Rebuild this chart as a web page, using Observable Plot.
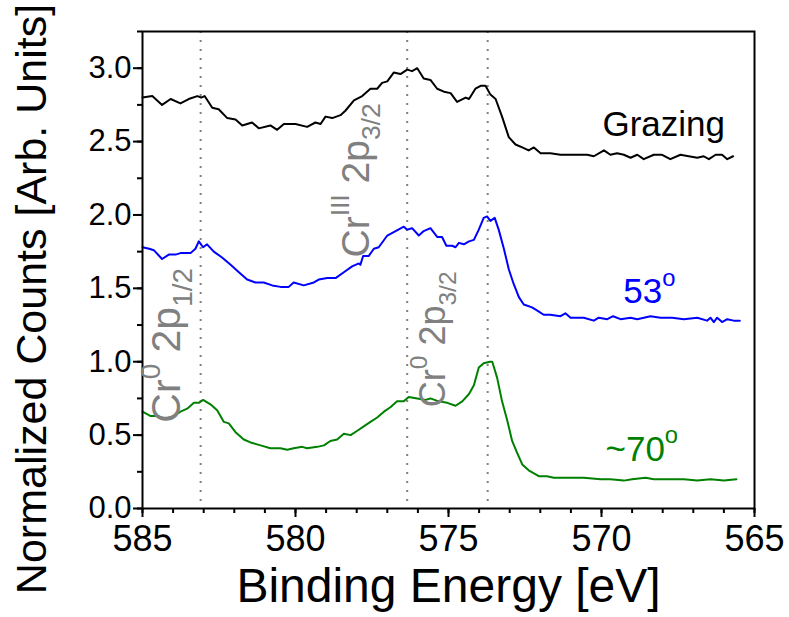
<!DOCTYPE html>
<html><head><meta charset="utf-8">
<script src="https://cdn.jsdelivr.net/npm/d3@7"></script>
<script src="https://cdn.jsdelivr.net/npm/@observablehq/plot@0.6"></script>
<style>html,body{margin:0;padding:0;background:#fff} svg{display:block}</style>
</head><body><div id="chart"></div>
<script>
// ---- data ----
const energyGrazing = [585.00,584.68,584.36,584.08,583.76,583.49,583.21,583.08,582.97,582.72,
 582.51,582.23,581.96,581.74,581.42,581.20,580.82,580.60,580.38,580.00,
 579.62,579.35,579.18,579.02,578.80,578.53,578.37,578.09,577.82,577.55,
 577.33,577.17,577.00,576.79,576.57,576.35,576.19,576.02,575.81,575.59,
 575.37,575.15,574.93,574.72,574.44,574.33,574.12,573.95,573.79,573.63,
 573.46,573.25,573.03,572.81,572.59,572.38,572.21,571.99,571.67,571.34,
 571.01,570.69,570.47,570.25,569.92,569.71,569.49,569.27,569.05,568.83,
 568.62,568.29,568.02,567.75,567.42,567.15,566.87,566.66,566.49,566.27,
 566.06,565.89,565.70];
const countsGrazing = [2.80,2.81,2.75,2.79,2.76,2.79,2.81,2.80,2.81,2.73,
 2.72,2.66,2.65,2.61,2.63,2.59,2.61,2.58,2.62,2.62,
 2.60,2.63,2.62,2.67,2.66,2.68,2.71,2.78,2.81,2.86,
 2.86,2.90,2.91,2.97,2.96,2.99,2.98,3.00,2.93,2.92,
 2.86,2.84,2.83,2.77,2.80,2.79,2.86,2.88,2.88,2.82,
 2.79,2.67,2.53,2.48,2.46,2.44,2.46,2.42,2.42,2.41,
 2.41,2.41,2.41,2.40,2.44,2.41,2.42,2.41,2.39,2.41,
 2.38,2.41,2.41,2.38,2.41,2.40,2.39,2.40,2.38,2.41,
 2.41,2.38,2.40];

const energy53 = [585.00,584.78,584.63,584.36,584.14,583.92,583.76,583.43,583.27,583.16,
 583.02,582.89,582.67,582.40,582.12,581.85,581.58,581.31,581.04,580.76,
 580.49,580.22,580.06,579.73,579.40,579.24,578.96,578.69,578.42,578.15,
 577.93,577.88,577.79,577.61,577.44,577.28,577.00,576.73,576.46,576.35,
 576.19,575.97,575.81,575.59,575.37,575.21,575.07,574.88,574.77,574.66,
 574.50,574.33,574.17,574.01,573.85,573.74,573.63,573.49,573.36,573.19,
 573.03,572.87,572.70,572.54,572.27,572.11,571.89,571.67,571.34,571.18,
 571.01,570.58,570.25,570.09,569.81,569.62,569.38,569.05,568.83,568.40,
 568.07,567.69,567.31,566.87,566.55,566.44,566.33,566.22,566.06,565.89,
 565.68,565.48];
const counts53 = [1.78,1.77,1.76,1.70,1.73,1.73,1.74,1.74,1.77,1.82,
 1.78,1.80,1.75,1.71,1.66,1.61,1.56,1.54,1.54,1.52,
 1.51,1.51,1.54,1.52,1.54,1.56,1.57,1.57,1.61,1.65,
 1.67,1.66,1.72,1.72,1.77,1.78,1.86,1.89,1.92,1.90,
 1.91,1.86,1.89,1.91,1.85,1.85,1.79,1.79,1.78,1.81,
 1.80,1.82,1.83,1.90,1.98,1.99,1.96,1.98,1.90,1.77,
 1.63,1.53,1.44,1.39,1.37,1.35,1.32,1.32,1.31,1.33,
 1.30,1.30,1.28,1.30,1.29,1.31,1.29,1.30,1.29,1.31,
 1.30,1.30,1.29,1.30,1.28,1.30,1.27,1.30,1.27,1.29,
 1.28,1.28];

const energy70 = [585.00,584.73,584.51,584.25,583.97,583.76,583.54,583.32,583.16,583.02,
 582.78,582.56,582.34,582.18,581.96,581.69,581.47,581.14,580.82,580.49,
 580.27,580.06,579.78,579.62,579.29,579.07,578.86,578.64,578.42,578.20,
 577.98,577.77,577.55,577.33,577.11,576.90,576.68,576.46,576.30,576.02,
 575.75,575.59,575.32,575.04,574.77,574.55,574.33,574.17,574.01,573.85,
 573.65,573.57,573.41,573.25,573.08,572.92,572.76,572.59,572.38,572.05,
 571.78,571.56,571.13,570.58,570.03,569.71,569.27,569.00,568.56,568.29,
 567.85,567.31,566.87,566.44,566.00,565.59];
const counts70 = [0.66,0.63,0.63,0.61,0.63,0.66,0.68,0.72,0.72,0.74,
 0.71,0.67,0.59,0.58,0.52,0.47,0.45,0.43,0.41,0.41,
 0.40,0.41,0.42,0.41,0.42,0.43,0.46,0.47,0.51,0.50,
 0.53,0.56,0.59,0.62,0.66,0.69,0.73,0.73,0.76,0.75,
 0.74,0.75,0.73,0.72,0.70,0.73,0.78,0.84,0.96,0.99,
 1.00,1.00,0.89,0.73,0.60,0.46,0.38,0.30,0.26,0.22,
 0.22,0.21,0.21,0.21,0.20,0.20,0.19,0.20,0.21,0.20,
 0.20,0.20,0.19,0.20,0.19,0.20];

const peakEnergies = [583.1, 576.35, 573.72];
const peakLabelText = ["Cr^0^ 2p_1/2_", "Cr^III^ 2p_3/2_", "Cr^0^ 2p_3/2_"];
const peakLabelEnergy = [583.76, 577.61, 575.10];
const peakLabelCounts = [0.585, 1.71, 0.69];
const peakLabelSize = [41, 39, 36];

const seriesNames = ["Grazing", "53^o^", "~70^o^"];
const seriesColors = ["#000000", "#0000ff", "#008000"];
const seriesLabelEnergy = [569.97, 569.29, 569.87];
const seriesLabelCounts = [2.54, 1.40, 0.327];

const xMajorTicks = [585, 580, 575, 570, 565];
const xMinorTicks = d3.range(565, 586, 1);
const yMajorTicks = [0, 0.5, 1.0, 1.5, 2.0, 2.5, 3.0];
const yMinorTicks = d3.range(0, 3.26, 0.25);
const xTitle = "Binding Energy [eV]";
const yTitle = "Normalized Counts [Arb. Units]";

// ---- tables ----
const rows = (xs, ys) => xs.map((x, i) => ({energy: x, counts: ys[i]}));
const peakLabels = peakLabelText.map((t, i) => ({text: t, energy: peakLabelEnergy[i], counts: peakLabelCounts[i], size: peakLabelSize[i]}));
const seriesLabels = seriesNames.map((t, i) => ({text: t, color: seriesColors[i], energy: seriesLabelEnergy[i], counts: seriesLabelCounts[i]}));

const FONT = "'Liberation Sans', Arial, Helvetica, sans-serif";

const svg = Plot.plot({
  width: 789, height: 617,
  marginLeft: 142, marginRight: 35, marginTop: 31, marginBottom: 109,
  x: {domain: [585, 565]},
  y: {domain: [0, 3.25]},
  color: {type: "identity"},
  style: {fontFamily: FONT, background: "white", color: "black", overflow: "visible"},
  marks: [
    Plot.ruleX(peakEnergies, {stroke: "#808080", strokeWidth: 2, strokeDasharray: "2,7"}),
    Plot.line(rows(energyGrazing, countsGrazing), {x: "energy", y: "counts", stroke: seriesColors[0], strokeWidth: 2}),
    Plot.line(rows(energy53, counts53), {x: "energy", y: "counts", stroke: seriesColors[1], strokeWidth: 2}),
    Plot.line(rows(energy70, counts70), {x: "energy", y: "counts", stroke: seriesColors[2], strokeWidth: 2}),
    Plot.axisX({ticks: xMinorTicks, tickSize: 5, strokeWidth: 2, tickFormat: () => "", label: null}),
    Plot.axisX({ticks: xMajorTicks, tickSize: 9, tickPadding: 8, strokeWidth: 2, fontSize: 36, tickFormat: d => String(d), label: null}),
    Plot.axisY({ticks: yMinorTicks, tickSize: 5, strokeWidth: 2, tickFormat: () => "", label: null}),
    Plot.axisY({ticks: yMajorTicks, tickSize: 9, tickPadding: 2, strokeWidth: 2, fontSize: 31, tickFormat: d => d.toFixed(1), label: null}),
    Plot.frame({stroke: "black", strokeWidth: 2}),
    Plot.text([xTitle], {text: d => d, frameAnchor: "bottom", textAnchor: "middle", dy: 93, lineAnchor: "bottom", fontSize: 48}),
    Plot.text([yTitle], {text: d => d, frameAnchor: "left", textAnchor: "middle", rotate: -90, dx: -97, dy: 29, lineAnchor: "bottom", fontSize: 43}),
    Plot.text(peakLabels, {x: "energy", y: "counts", text: "text", rotate: -90, textAnchor: "start", lineAnchor: "bottom", fontSize: "size", fill: "#808080"}),
    Plot.text(seriesLabels, {x: "energy", y: "counts", text: "text", fill: "color", textAnchor: "start", lineAnchor: "bottom", fontSize: 35})
  ]
});
document.getElementById("chart").appendChild(svg);

// rich text: ^sup^ and _sub_
d3.select(svg).selectAll("text").each(function () {
  const t = this.textContent;
  if (!/[\^_]/.test(t)) return;
  const F = parseFloat(getComputedStyle(this).fontSize) || 36;
  const parts = t.split(/(\^[^\^]*\^|_[^_]*_)/).filter(s => s.length);
  while (this.firstChild) this.removeChild(this.firstChild);
  let shift = 0;
  for (const p of parts) {
    let kind = "n", s = p;
    if (p.startsWith("^")) { kind = "sup"; s = p.slice(1, -1); }
    else if (p.startsWith("_")) { kind = "sub"; s = p.slice(1, -1); }
    const target = kind === "sup" ? -0.5 * F : kind === "sub" ? 0.28 * F : 0;
    const ts = document.createElementNS("http://www.w3.org/2000/svg", "tspan");
    ts.textContent = s;
    if (kind !== "n") ts.setAttribute("font-size", (0.68 * F).toFixed(1));
    const dy = target - shift;
    if (dy !== 0) ts.setAttribute("dy", dy.toFixed(1));
    shift = target;
    this.appendChild(ts);
  }
});
</script>
</body></html>
